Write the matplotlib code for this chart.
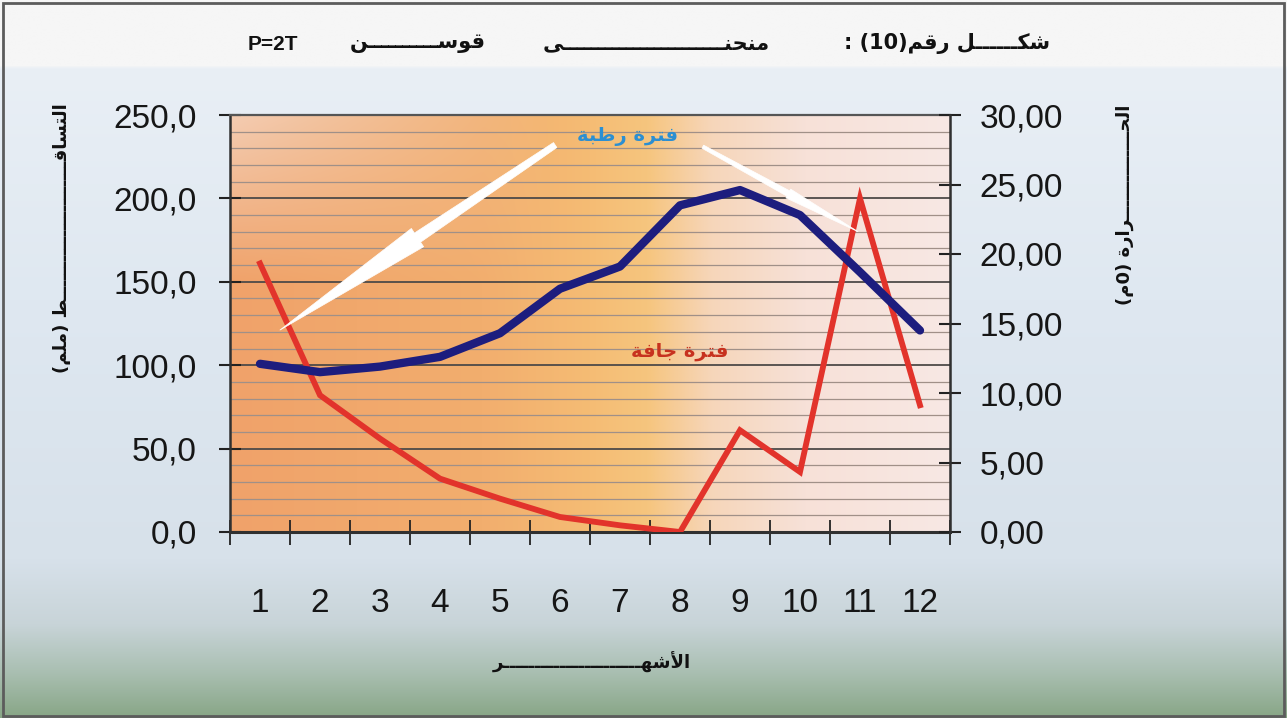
import re
import numpy as np
import matplotlib
matplotlib.use("Agg")
import matplotlib.pyplot as plt
from matplotlib.patches import Polygon, Rectangle
from matplotlib.ticker import FuncFormatter

# ---------------- data ----------------
months = list(range(1, 13))
month_labels = [str(m) for m in months]
precip_mm = [161, 82, 56, 32, 20, 9, 4, 0, 61, 36, 200, 76]
temp_c = [12.1, 11.5, 11.9, 12.6, 14.3, 17.5, 19.1, 23.5, 24.6, 22.8, 18.7, 14.5]
precip_ticks = [0, 50, 100, 150, 200, 250]
temp_ticks = [0, 5, 10, 15, 20, 25, 30]

K = "ـ"  # kashida used to stretch the Arabic captions
title_right = "شك" + K * 6 + "ل رقم(10) :"
title_word1 = "منحن" + K * 23 + "ى"
title_word2 = "قوس" + K * 10 + "ن"
title_left = "P=2T"
ylabel_left = "التساق" + K * 22 + "ط (ملم)"
ylabel_right = "الح" + K * 14 + "رارة (0م)"
xlabel = "الأشه" + K * 22 + "ر"
wet_label = "فترة رطبة"
dry_label = "فترة جافة"

# ---------------- Arabic shaping (presentation forms) ----------------
FORMS = {
    'ا': ('\uFE8D', '\uFE8E', None, None),
    'أ': ('\uFE83', '\uFE84', None, None),
    'ب': ('\uFE8F', '\uFE90', '\uFE91', '\uFE92'),
    'ة': ('\uFE93', '\uFE94', None, None),
    'ت': ('\uFE95', '\uFE96', '\uFE97', '\uFE98'),
    'ج': ('\uFE9D', '\uFE9E', '\uFE9F', '\uFEA0'),
    'ح': ('\uFEA1', '\uFEA2', '\uFEA3', '\uFEA4'),
    'ر': ('\uFEAD', '\uFEAE', None, None),
    'س': ('\uFEB1', '\uFEB2', '\uFEB3', '\uFEB4'),
    'ش': ('\uFEB5', '\uFEB6', '\uFEB7', '\uFEB8'),
    'ط': ('\uFEC1', '\uFEC2', '\uFEC3', '\uFEC4'),
    'ف': ('\uFED1', '\uFED2', '\uFED3', '\uFED4'),
    'ق': ('\uFED5', '\uFED6', '\uFED7', '\uFED8'),
    'ك': ('\uFED9', '\uFEDA', '\uFEDB', '\uFEDC'),
    'ل': ('\uFEDD', '\uFEDE', '\uFEDF', '\uFEE0'),
    'م': ('\uFEE1', '\uFEE2', '\uFEE3', '\uFEE4'),
    'ن': ('\uFEE5', '\uFEE6', '\uFEE7', '\uFEE8'),
    'ه': ('\uFEE9', '\uFEEA', '\uFEEB', '\uFEEC'),
    'و': ('\uFEED', '\uFEEE', None, None),
    'ى': ('\uFEEF', '\uFEF0', None, None),
    'ـ': ('\u0640', '\u0640', '\u0640', '\u0640'),
}
LAM_ALEF = {'ا': ('\uFEFB', '\uFEFC'), 'أ': ('\uFEF7', '\uFEF8')}


def shape(s):
    tokens = []
    i = 0
    while i < len(s):
        c = s[i]
        if c == 'ل' and i + 1 < len(s) and s[i + 1] in LAM_ALEF:
            tokens.append(('LA', s[i + 1]))
            i += 2
        else:
            tokens.append((c, None))
            i += 1

    def joins_next(t):
        return t[0] != 'LA' and t[0] in FORMS and FORMS[t[0]][2] is not None

    def joins_prev(t):
        return t[0] == 'LA' or t[0] in FORMS

    out = []
    for k, t in enumerate(tokens):
        pj = k > 0 and joins_next(tokens[k - 1]) and joins_prev(t)
        nj = k + 1 < len(tokens) and joins_next(t) and joins_prev(tokens[k + 1])
        c, a = t
        if c == 'LA':
            out.append(LAM_ALEF[a][1 if pj else 0])
        elif c in FORMS:
            iso, fin, ini, med = FORMS[c]
            out.append(med if (pj and nj) else fin if pj else ini if nj else iso)
        else:
            out.append(c)
    return ''.join(out)


def rtl(s):
    runs = re.findall(r'[A-Za-z0-9=.]+|[^A-Za-z0-9=.]', shape(s))
    mirror = {'(': ')', ')': '('}
    return ''.join(mirror.get(r, r) for r in reversed(runs))


AR = ['DejaVu Sans']
NUM = ['Liberation Sans', 'DejaVu Sans']

# ---------------- figure & background ----------------
W, H = 1287, 718
fig = plt.figure(figsize=(W / 100, H / 100), dpi=100)

ys = np.array([0, 66, 67, 300, 560, 625, 675, 718]) / H
cols = np.array([[246, 246, 246], [246, 246, 246], [233, 239, 245], [223, 232, 241],
                 [215, 225, 234], [200, 212, 216], [168, 190, 176], [136, 166, 134]]) / 255
yy = np.linspace(0, 1, 400)
vgrad = np.stack([np.interp(yy, ys, cols[:, c]) for c in range(3)], axis=-1)
bg_img = np.repeat(vgrad[:, None, :], 4, axis=1)
bg = fig.add_axes([0, 0, 1, 1], zorder=-10)
bg.imshow(bg_img, aspect='auto', extent=[0, 1, 0, 1], interpolation='bilinear')
bg.set_xlim(0, 1)
bg.set_ylim(0, 1)
bg.axis('off')
fig.patches.append(Rectangle((0.0025, 0.003), 0.995, 0.993, transform=fig.transFigure,
                             fill=False, ec='#5c5c5c', lw=2.0, zorder=5))

# ---------------- main axes ----------------
L, R, T, B = 230, 950, 115, 532
ax = fig.add_axes([L / W, 1 - B / H, (R - L) / W, (B - T) / H])

# warm gradient inside the plotting area
nx, ny = 300, 200
xs = np.linspace(0, 1, nx)
hx = np.array([0.0, 0.35, 0.5, 0.58, 0.67, 0.8, 1.0])
hc = np.array([[240, 162, 106], [242, 174, 110], [245, 188, 116], [246, 197, 126],
               [246, 214, 186], [247, 225, 216], [248, 232, 228]]) / 255
row = np.stack([np.interp(xs, hx, hc[:, c]) for c in range(3)], axis=-1)
plot_img = np.repeat(row[None, :, :], ny, axis=0)
yv = np.linspace(0, 1, ny)[:, None]          # 0 = top
xv = xs[None, :]
lift = np.clip(1 - xv / 0.45, 0, 1) * np.clip(1 - yv / 0.4, 0, 1) * 0.7
pale = np.array([245, 222, 208]) / 255
plot_img = plot_img * (1 - lift[..., None]) + pale * lift[..., None]
ax.imshow(plot_img, aspect='auto', extent=[0, 1, 0, 1], transform=ax.transAxes,
          zorder=0, interpolation='bilinear')

# horizontal guide lines every 10 mm, darker every 50 mm
for v in range(10, 250, 10):
    if v % 50 == 0:
        ax.axhline(v, color='#4e4a48', lw=1.3, zorder=1)
    else:
        ax.axhline(v, color='#a09088', lw=0.9, zorder=1)

ax.plot(months, precip_mm, color='#e2332b', lw=4.2, solid_joinstyle='miter', zorder=3)

ax.set_xlim(0.5, 12.5)
ax.set_ylim(0, 250)
ax.set_yticks(precip_ticks)
ax.yaxis.set_major_formatter(FuncFormatter(lambda v, p: f"{v:.1f}".replace('.', ',')))
ax.set_xticks(months)
ax.set_xticklabels(month_labels)
ax.set_xticks(np.arange(0.5, 13, 1.0), minor=True)
ax.tick_params(axis='x', which='major', length=0, pad=40)
ax.tick_params(axis='x', which='minor', length=18, width=1.3, direction='inout', color='#222222')
ax.tick_params(axis='y', which='major', length=16, width=1.5, direction='inout', pad=16,
               color='#222222')
for lab in ax.get_xticklabels() + ax.get_yticklabels():
    lab.set_fontfamily(NUM)
    lab.set_fontsize(24)
    lab.set_color('#161616')

for side in ['left', 'right', 'top', 'bottom']:
    ax.spines[side].set_color('#303030')
ax.spines['left'].set_linewidth(1.8)
ax.spines['bottom'].set_linewidth(2.2)
ax.spines['top'].set_linewidth(1.6)
ax.spines['top'].set_color('#555555')

# ---------------- temperature on the secondary axis ----------------
ax2 = ax.twinx()
ax2.plot(months, temp_c, color='#1d1d7e', lw=6.0, solid_joinstyle='round',
         solid_capstyle='round', zorder=3)
ax2.set_ylim(0, 30)
ax2.set_yticks(temp_ticks)
ax2.yaxis.set_major_formatter(FuncFormatter(lambda v, p: f"{v:.2f}".replace('.', ',')))
ax2.tick_params(axis='y', which='major', length=16, width=1.5, direction='inout', pad=13.5,
                color='#222222')
for lab in ax2.get_yticklabels():
    lab.set_fontfamily(NUM)
    lab.set_fontsize(24)
    lab.set_color('#161616')
ax2.spines['right'].set_linewidth(1.8)
ax2.spines['right'].set_color('#303030')
ax2.spines['top'].set_visible(False)
ax2.spines['left'].set_visible(False)
ax2.spines['bottom'].set_visible(False)

# ---------------- wet-period pointers ----------------
def pointer(tail, tip, at, w_tail, w_neck, barb):
    t = ax.transData.transform(tail)
    p = ax.transData.transform(tip)
    u = (p - t) / np.hypot(*(p - t))
    n = np.array([-u[1], u[0]])
    b = t + at * (p - t)
    pts = [t + n * w_tail / 2, b + n * w_neck / 2, b + n * barb / 2, p,
           b - n * barb / 2, b - n * w_neck / 2, t - n * w_tail / 2]
    pts = ax2.transData.inverted().transform(np.array(pts))
    ax2.add_patch(Polygon(pts, closed=True, fc='white', ec='white', lw=0.5, zorder=6))

pointer((5.92, 232), (1.33, 121), 0.5, 6, 11, 22)
pointer((8.38, 231), (10.97, 180), 0.55, 3.5, 6, 10)

ax.text(7.12, 237, rtl(wet_label), ha='center', va='center', fontsize=14,
        fontweight='bold', family=AR, color='#2c8fd2', zorder=7)
ax.text(8.0, 108, rtl(dry_label), ha='center', va='center', fontsize=14,
        fontweight='bold', family=AR, color='#c7321f', zorder=7)
ax.set_zorder(1)
ax2.set_zorder(2)

# ---------------- titles and axis captions ----------------
ty = 1 - 43 / H
fig.text(1050 / W, ty, rtl(title_right), ha='right', va='center', fontsize=15,
         fontweight='bold', family=AR, color='#111111')
fig.text(770 / W, ty, rtl(title_word1), ha='right', va='center', fontsize=15,
         fontweight='bold', family=AR, color='#111111')
fig.text(350 / W, ty, rtl(title_word2), ha='left', va='center', fontsize=15,
         fontweight='bold', family=AR, color='#111111')
fig.text(248 / W, 1 - 45 / H, title_left, ha='left', va='center', fontsize=15,
         fontweight='bold', family=NUM, color='#111111')
fig.text(62 / W, 1 - 238 / H, rtl(ylabel_left), ha='center', va='center', rotation=90,
         fontsize=13, fontweight='bold', family=AR, color='#111111')
fig.text(1125 / W, 1 - 205 / H, rtl(ylabel_right), ha='center', va='center', rotation=90,
         fontsize=13, fontweight='bold', family=AR, color='#111111')
fig.text(592 / W, 1 - 662 / H, rtl(xlabel), ha='center', va='center', fontsize=13,
         fontweight='bold', family=AR, color='#111111')

fig.savefig('out.png', dpi=100)
